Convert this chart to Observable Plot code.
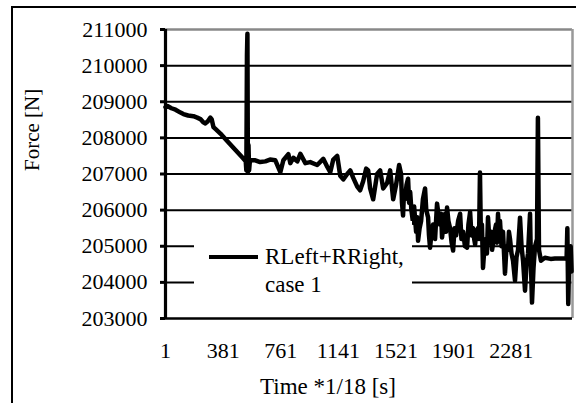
<!DOCTYPE html>
<html>
<head>
<meta charset="utf-8">
<script src="https://cdn.jsdelivr.net/npm/d3@7"></script>
<script src="https://cdn.jsdelivr.net/npm/@observablehq/plot@0.6"></script>
<style>
html,body{margin:0;padding:0;background:#fff;}
#wrap{position:relative;width:576px;height:403px;overflow:hidden;font-family:"Liberation Serif","Times New Roman",serif;color:#000;}
#frame{position:absolute;left:11px;top:6px;width:700px;height:600px;border-top:2px solid #000;border-left:2px solid #000;pointer-events:none;}
#chart{position:absolute;left:0;top:0;}
#legend{position:absolute;left:194px;top:221px;width:218px;height:82px;background:#fff;}
#legend .sample{position:absolute;left:15px;top:34px;width:49px;height:4px;background:#000;}
#legend .txt{position:absolute;left:71px;top:22px;font-size:23px;line-height:28px;white-space:nowrap;}
</style>
</head>
<body>
<div id="wrap">
  <div id="chart"></div>
  <div id="frame"></div>
  <div id="legend"><div class="sample"></div><div class="txt">RLeft+RRight,<br>case 1</div></div>
</div>
<script>
// Category axis (time step index, *1/18 s)
const xTickLabels = [1, 381, 761, 1141, 1521, 1901, 2281];
const yTickValues = [203000, 204000, 205000, 206000, 207000, 208000, 209000, 210000, 211000];
const seriesName = "RLeft+RRight, case 1";

// Series: time index
const time = [
  1, 14, 40, 67, 100, 119, 150, 185, 210, 231, 250, 264, 280, 297, 305, 317, 330, 363, 400, 450,
  514, 530, 534, 538, 541, 544, 548, 552, 556, 560,
  593, 625, 659, 690, 725, 758, 778, 811, 824, 844, 870, 890, 923, 955, 1001, 1041, 1067, 1087,
  1107, 1133, 1153, 1173, 1199, 1219, 1238, 1265, 1284, 1304, 1324, 1337, 1350, 1370, 1396, 1416,
  1436, 1462, 1482, 1502, 1521, 1541,
  1554, 1560, 1567, 1573, 1580, 1590, 1600, 1607, 1614, 1622, 1633, 1640, 1653, 1660, 1666, 1676,
  1686, 1698, 1712, 1720, 1732, 1738, 1745, 1755, 1765, 1778, 1791, 1800, 1811, 1818, 1824, 1834,
  1844, 1850, 1857, 1866, 1877, 1887, 1897, 1906, 1917, 1930, 1943, 1952, 1963, 1975, 1989, 1998,
  2009, 2018, 2029, 2036, 2042, 2050, 2061, 2068, 2074, 2080, 2087, 2094, 2104, 2114, 2120, 2127,
  2137, 2147, 2154, 2160, 2170, 2180, 2186, 2193, 2200, 2206, 2216, 2226, 2239, 2249, 2259, 2265,
  2272, 2282, 2292, 2305, 2315, 2325, 2338, 2348, 2358, 2371, 2381, 2391, 2404, 2410, 2417, 2427,
  2437, 2450, 2456, 2463, 2476, 2502, 2540, 2568, 2600, 2634, 2645, 2650, 2656, 2662, 2672, 2678
];
// Series: force [N]
const force = [
  208850, 208880, 208820, 208780, 208700, 208660, 208620, 208600, 208560, 208520, 208430, 208400, 208460, 208560, 208520, 208300, 208250, 208120, 207950, 207720,
  207430, 207350, 207100, 210300, 210880, 207050, 207800, 207100, 207300, 207380,
  207380, 207330, 207350, 207400, 207380, 207050, 207380, 207550, 207300, 207450, 207350, 207560, 207300, 207330, 207250, 207420, 207200, 207050,
  207400, 207500, 206950, 206850, 207000, 207100, 206900, 206650, 206550, 206800, 207150, 207100, 206600, 206300, 207000, 207100,
  206600, 206750, 207100, 206300, 206700, 207250,
  207000, 206200, 205850, 206500, 206300, 206700, 206870, 206200, 206500, 206000, 205650, 206100, 205400, 205800, 205150, 205500,
  205700, 206300, 206600, 206000, 205800, 205300, 204960, 205400, 205600, 205200, 206180, 205900, 205600, 205900, 205240, 205600,
  205900, 205400, 206070, 205700, 205500, 205100, 204880, 205500, 205300, 205700, 205900, 205200, 205400, 205000, 204960, 205600,
  205950, 205300, 205500, 205200, 205050, 205400, 205500, 205200, 207040, 205300, 205600, 204400, 205000, 205200, 204800, 205800,
  205100, 205400, 204900, 205070, 205400, 205600, 205100, 205900, 205300, 205700, 205000, 205400, 204240, 205000, 204900, 205400,
  205200, 204800, 204600, 204050, 204700, 204900, 205790, 205000, 204600, 203770, 204500, 204800, 205900, 204500, 203440, 204400,
  205000, 205200, 208560, 204900, 204600, 204680, 204650, 204660, 204660, 204660, 204650, 205500, 203400, 204650, 205000, 204300
];

const data = time.map((t, i) => ({t, f: force[i], series: seriesName}));

const chart = Plot.plot({
  width: 576,
  height: 403,
  marginLeft: 165,
  marginRight: 4,
  marginTop: 29,
  marginBottom: 85,
  style: {background: "transparent", fontFamily: "'Liberation Serif','Times New Roman',serif", fontSize: "22px", color: "#000", overflow: "visible"},
  x: {domain: [1, 2684]},
  y: {domain: [203000, 211000]},
  marks: [
    Plot.ruleY(yTickValues.filter(v => v > 203000 && v < 211000), {stroke: "#000", strokeWidth: 2}),
    Plot.ruleY([211000], {stroke: "#888", strokeWidth: 2.5}),
    Plot.ruleX([2684], {stroke: "#999", strokeWidth: 2.5}),
    Plot.line(data, {x: "t", y: "f", stroke: "#000", strokeWidth: 4.5, strokeLinejoin: "round", strokeLinecap: "round"}),
    Plot.ruleY([203000], {stroke: "#000", strokeWidth: 2.5}),
    Plot.ruleX([1], {stroke: "#000", strokeWidth: 3.2}),
    Plot.axisY({ticks: yTickValues, tickSize: 5, tickPadding: 13, strokeWidth: 3, tickFormat: d => String(d), label: null, fontSize: 22}),
    Plot.axisX({ticks: xTickLabels, tickSize: 0, tickPadding: 24, tickFormat: d => String(d), label: null, fontSize: 22}),
    Plot.text(["Time *1/18 [s]"], {frameAnchor: "bottom", dx: -41, dy: 68, fontSize: 23, lineAnchor: "middle", fill: "#000"}),
    Plot.text(["Force [N]"], {frameAnchor: "left", dx: -133, dy: -3, rotate: -90, fontSize: 21, lineAnchor: "middle", fill: "#000"})
  ]
});
document.getElementById("chart").appendChild(chart);
</script>
</body>
</html>
